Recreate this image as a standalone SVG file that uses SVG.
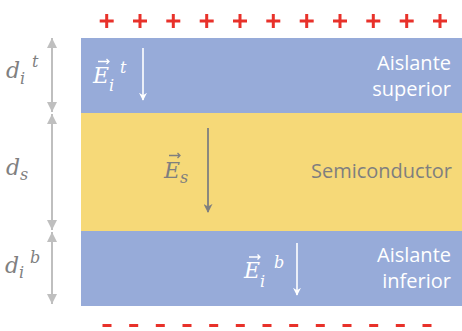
<svg xmlns="http://www.w3.org/2000/svg" width="462" height="331" viewBox="0 0 462 331">
<style>
.ins{fill:#97abd9}
.semi{fill:#f6d978}
.lbl{font-family:"Open Sans","Liberation Sans",sans-serif;font-size:20px;text-anchor:end}
.w{fill:#ffffff}
.g{fill:#7f7f7f}
.math{font-family:"DejaVu Serif","Liberation Serif",serif;font-style:italic}
.big{font-size:22px}
.sub{font-size:16px}
.vw{stroke:#ffffff;stroke-width:1.3;fill:none}
.vg{stroke:#7f7f7f;stroke-width:1.3;fill:none}
.dim{stroke:#bfbfbf;stroke-width:2;fill:none}
.plus{stroke:#e8312a;stroke-width:3;fill:none}
.minus{stroke:#e8312a;stroke-width:3.2;fill:none}
</style>
<defs>
<marker id="ah" viewBox="0 0 10 10" refX="10" refY="5" markerWidth="10" markerHeight="10" markerUnits="userSpaceOnUse" orient="auto-start-reverse">
<path d="M0,0 L10,5 L0,10 z" fill="#bfbfbf"/>
</marker>
<marker id="aw" viewBox="0 0 10 10" refX="9" refY="5" markerWidth="8" markerHeight="8" markerUnits="userSpaceOnUse" orient="auto">
<path d="M0,0 L10,5 L0,10 L3,5 z" fill="#ffffff"/>
</marker>
<marker id="ag" viewBox="0 0 10 10" refX="9" refY="5" markerWidth="9" markerHeight="9" markerUnits="userSpaceOnUse" orient="auto">
<path d="M0,0 L10,5 L0,10 L3,5 z" fill="#7f7f7f"/>
</marker>
</defs>

<g id="aislante-superior">
<rect class="ins" x="81" y="38" width="381" height="75"/>
<text class="lbl w" x="451" y="70">Aislante</text>
<text class="lbl w" x="451" y="96">superior</text>
</g>

<g id="semiconductor">
<rect class="semi" x="81" y="113" width="381" height="118"/>
<text class="lbl g" x="452" y="178">Semiconductor</text>
</g>

<g id="aislante-inferior">
<rect class="ins" x="81" y="231" width="381" height="75"/>
<text class="lbl w" x="451" y="262">Aislante</text>
<text class="lbl w" x="451" y="288">inferior</text>
</g>

<g id="campo-Eit">
<text class="math w" x="93" y="83"><tspan class="big">E</tspan><tspan class="sub" dy="8">i</tspan><tspan class="sub" x="120" y="73">t</tspan></text>
<path class="vw" d="M98,61.5h11M106.5,59l2.5,2.5l-2.5,2.5"/>
<line x1="143" y1="48" x2="143" y2="100" stroke="#ffffff" stroke-width="1.6" marker-end="url(#aw)"/>
</g>

<g id="campo-Es">
<text class="math g" x="164" y="178"><tspan class="big">E</tspan><tspan class="sub" dy="5">s</tspan></text>
<path class="vg" d="M169,155.5h11M177.5,153l2.5,2.5l-2.5,2.5"/>
<line x1="208" y1="128" x2="208" y2="212" stroke="#7f7f7f" stroke-width="1.8" marker-end="url(#ag)"/>
</g>

<g id="campo-Eib">
<text class="math w" x="244" y="278"><tspan class="big">E</tspan><tspan class="sub" dy="9">i</tspan><tspan class="sub" x="274" y="268">b</tspan></text>
<path class="vw" d="M249,257h11M257.5,254.5l2.5,2.5l-2.5,2.5"/>
<line x1="297" y1="243" x2="297" y2="295" stroke="#ffffff" stroke-width="1.6" marker-end="url(#aw)"/>
</g>

<g id="etiquetas-espesor" class="math g">
<text x="6" y="78"><tspan class="big">d</tspan><tspan class="sub" dy="6">i</tspan><tspan class="sub" x="32" y="67">t</tspan></text>
<text x="6" y="175"><tspan class="big">d</tspan><tspan class="sub" dy="5">s</tspan></text>
<text x="5" y="273"><tspan class="big">d</tspan><tspan class="sub" dy="5">i</tspan><tspan class="sub" x="30" y="263">b</tspan></text>
</g>

<g id="conectores">
<line class="dim" x1="52" y1="38" x2="52" y2="112" marker-start="url(#ah)" marker-end="url(#ah)"/>
<line class="dim" x1="52" y1="114" x2="52" y2="230" marker-start="url(#ah)" marker-end="url(#ah)"/>
<line class="dim" x1="52" y1="232" x2="52" y2="304" marker-start="url(#ah)" marker-end="url(#ah)"/>
</g>

<g id="cargas-positivas" class="plus">
<path d="M99.7,21h14M106.7,14v14"/>
<path d="M133,21h14M140,14v14"/>
<path d="M166.3,21h14M173.3,14v14"/>
<path d="M199.7,21h14M206.7,14v14"/>
<path d="M233,21h14M240,14v14"/>
<path d="M266.3,21h14M273.3,14v14"/>
<path d="M299.7,21h14M306.7,14v14"/>
<path d="M333,21h14M340,14v14"/>
<path d="M366.3,21h14M373.3,14v14"/>
<path d="M399.7,21h14M406.7,14v14"/>
<path d="M433,21h14M440,14v14"/>
</g>

<g id="cargas-negativas" class="minus">
<path d="M102.5,325.5h9M129.2,325.5h9M155.8,325.5h9M182.5,325.5h9M209.2,325.5h9M235.8,325.5h9M262.5,325.5h9M289.2,325.5h9M315.8,325.5h9M342.5,325.5h9M369.2,325.5h9M395.8,325.5h9M422.5,325.5h9"/>
</g>
</svg>
